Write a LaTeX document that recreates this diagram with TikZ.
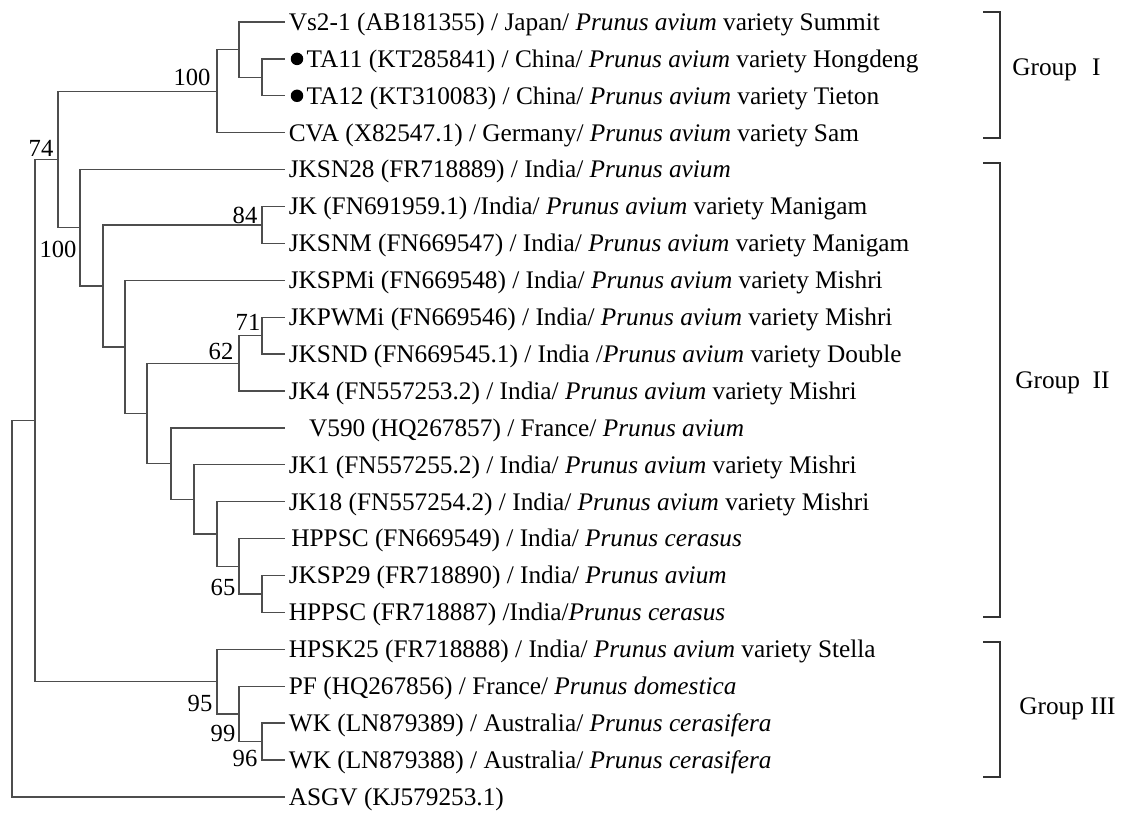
\documentclass[tikz,border=0pt]{standalone}
\usepackage{fontspec}
\setmainfont{Liberation Serif}
\usepackage{tikz}
\usetikzlibrary{positioning, calc}
\definecolor{branchgray}{HTML}{4D4D4D}

\newcommand{\leafsize}{\fontsize{14.4}{18}\selectfont}
\newcommand{\bootsize}{\fontsize{14}{16}\selectfont}

\begin{document}
\begin{tikzpicture}[x=0.02cm, y=-0.02cm,
  br/.style={draw=branchgray, line width=0.75pt},
  leaf/.style={anchor=west, inner sep=2pt, text height=9.5pt, text depth=0pt, font=\leafsize},
  boot/.style={inner sep=0pt, font=\bootsize},
  grp/.style={anchor=base west, inner sep=0pt, font=\leafsize},
  bullet/.style={circle, fill=black, inner sep=0pt, minimum size=0.25cm},
  bracket/.style={draw=black!80, line width=0.75pt}]
  \useasboundingbox (0,0) rectangle (1126,814);

  % Leaves
  \node[leaf] (l1) at (285,22.0) {Vs2-1 (AB181355) / Japan/ \textit{Prunus avium} variety Summit};
  \node[leaf] (l2) at (285,58.9) {\hspace{0.7em}TA11 (KT285841) / China/ \textit{Prunus avium} variety Hongdeng};
  \node[leaf] (l3) at (285,95.8) {\hspace{0.7em}TA12 (KT310083) / China/ \textit{Prunus avium} variety Tieton};
  \node[leaf] (l4) at (285,132.7) {CVA (X82547.1) / Germany/ \textit{Prunus avium} variety Sam};
  \node[leaf] (l5) at (285,169.6) {JKSN28 (FR718889) / India/ \textit{Prunus avium}};
  \node[leaf] (l6) at (285,206.5) {JK (FN691959.1) /India/ \textit{Prunus avium} variety Manigam};
  \node[leaf] (l7) at (285,243.4) {JKSNM (FN669547) / India/ \textit{Prunus avium} variety Manigam};
  \node[leaf] (l8) at (285,280.3) {JKSPMi (FN669548) / India/ \textit{Prunus avium} variety Mishri};
  \node[leaf] (l9) at (285,317.2) {JKPWMi (FN669546) / India/ \textit{Prunus avium} variety Mishri};
  \node[leaf] (l10) at (285,354.1) {JKSND (FN669545.1) / India /\textit{Prunus avium} variety Double};
  \node[leaf] (l11) at (285,391.0) {JK4 (FN557253.2) / India/ \textit{Prunus avium} variety Mishri};
  \node[leaf] (l12) at (285,427.9) {\hspace{0.8em}V590 (HQ267857) / France/ \textit{Prunus avium}};
  \node[leaf] (l13) at (285,464.8) {JK1 (FN557255.2) / India/ \textit{Prunus avium} variety Mishri};
  \node[leaf] (l14) at (285,501.7) {JK18 (FN557254.2) / India/ \textit{Prunus avium} variety Mishri};
  \node[leaf] (l15) at (285,538.6) {\hspace{0.1em}HPPSC (FN669549) / India/ \textit{Prunus cerasus}};
  \node[leaf] (l16) at (285,575.5) {JKSP29 (FR718890) / India/ \textit{Prunus avium}};
  \node[leaf] (l17) at (285,612.4) {HPPSC (FR718887) /India/\textit{Prunus cerasus}};
  \node[leaf] (l18) at (285,649.3) {HPSK25 (FR718888) / India/ \textit{Prunus avium} variety Stella};
  \node[leaf] (l19) at (285,686.2) {PF (HQ267856) / France/ \textit{Prunus domestica}};
  \node[leaf] (l20) at (285,723.1) {WK (LN879389) / Australia/ \textit{Prunus cerasifera}};
  \node[leaf] (l21) at (285,760.0) {WK (LN879388) / Australia/ \textit{Prunus cerasifera}};
  \node[leaf] (l22) at (285,796.9) {ASGV (KJ579253.1)};

  % Isolates from this study
  \node[bullet] (dot2) at (297,58.9) {};
  \node[bullet] (dot3) at (297,95.8) {};

  % Internal nodes
  \coordinate (root) at (12,608.7);
  \coordinate (nA) at (35,420.5);
  \coordinate (nB) at (58,159.5);
  \coordinate (nC) at (217,91.2);
  \coordinate (nE) at (239,49.7);
  \coordinate (nF) at (262,77.4);
  \coordinate (nD) at (80,227.8);
  \coordinate (nG) at (103,285.9);
  \coordinate (nH) at (262,225.0);
  \coordinate (nI) at (125,346.9);
  \coordinate (nJ) at (147,413.5);
  \coordinate (nK) at (239,363.3);
  \coordinate (nM) at (262,335.7);
  \coordinate (nL) at (171,463.7);
  \coordinate (nN) at (194,499.4);
  \coordinate (nO) at (217,534.0);
  \coordinate (nP) at (239,566.3);
  \coordinate (nQ) at (262,594.0);
  \coordinate (nR) at (217,681.6);
  \coordinate (nS) at (239,713.9);
  \coordinate (nT) at (262,741.6);

  % Branches
  \draw[br] (root) |- (nA);  \draw[br] (root) |- (l22.west);
  \draw[br] (nA) |- (nB);    \draw[br] (nA) |- (nR);
  \draw[br] (nB) |- (nC);    \draw[br] (nB) |- (nD);
  \draw[br] (nC) |- (nE);    \draw[br] (nC) |- (l4.west);
  \draw[br] (nE) |- (l1.west); \draw[br] (nE) |- (nF);
  \draw[br] (nF) |- (l2.west); \draw[br] (nF) |- (l3.west);
  \draw[br] (nD) |- (l5.west); \draw[br] (nD) |- (nG);
  \draw[br] (nG) |- (nH);    \draw[br] (nG) |- (nI);
  \draw[br] (nH) |- (l6.west); \draw[br] (nH) |- (l7.west);
  \draw[br] (nI) |- (l8.west); \draw[br] (nI) |- (nJ);
  \draw[br] (nJ) |- (nK);    \draw[br] (nJ) |- (nL);
  \draw[br] (nK) |- (nM);    \draw[br] (nK) |- (l11.west);
  \draw[br] (nM) |- (l9.west); \draw[br] (nM) |- (l10.west);
  \draw[br] (nL) |- (l12.west); \draw[br] (nL) |- (nN);
  \draw[br] (nN) |- (l13.west); \draw[br] (nN) |- (nO);
  \draw[br] (nO) |- (l14.west); \draw[br] (nO) |- (nP);
  \draw[br] (nP) |- (l15.west); \draw[br] (nP) |- (nQ);
  \draw[br] (nQ) |- (l16.west); \draw[br] (nQ) |- (l17.west);
  \draw[br] (nR) |- (l18.west); \draw[br] (nR) |- (nS);
  \draw[br] (nS) |- (l19.west); \draw[br] (nS) |- (nT);
  \draw[br] (nT) |- (l20.west); \draw[br] (nT) |- (l21.west);

  % Bootstrap values
  \node[boot] (bsC) at (192,77) {100};
  \node[boot] (bsB) at (41,148) {74};
  \node[boot] (bsD) at (58,249) {100};
  \node[boot] (bsH) at (245,215) {84};
  \node[boot] (bsM) at (248,322) {71};
  \node[boot] (bsK) at (221,351) {62};
  \node[boot] (bsP) at (223,587) {65};
  \node[boot] (bsR) at (200,703) {95};
  \node[boot] (bsS) at (223,733) {99};
  \node[boot] (bsT) at (245,758) {96};

  % Group brackets
  \draw[bracket] (983,12) -- (1000,12) -- (1000,138) -- (983,138);
  \draw[bracket] (983,163) -- (1000,163) -- (1000,617) -- (983,617);
  \draw[bracket] (983,642) -- (1000,642) -- (1000,777) -- (983,777);
  \node[grp] (g1) at (1012,76) {Group\hspace{0.6em}I};
  \node[grp] (g2) at (1015,388) {Group\hspace{0.5em}II};
  \node[grp] (g3) at (1019,714) {Group III};
\end{tikzpicture}
\end{document}
